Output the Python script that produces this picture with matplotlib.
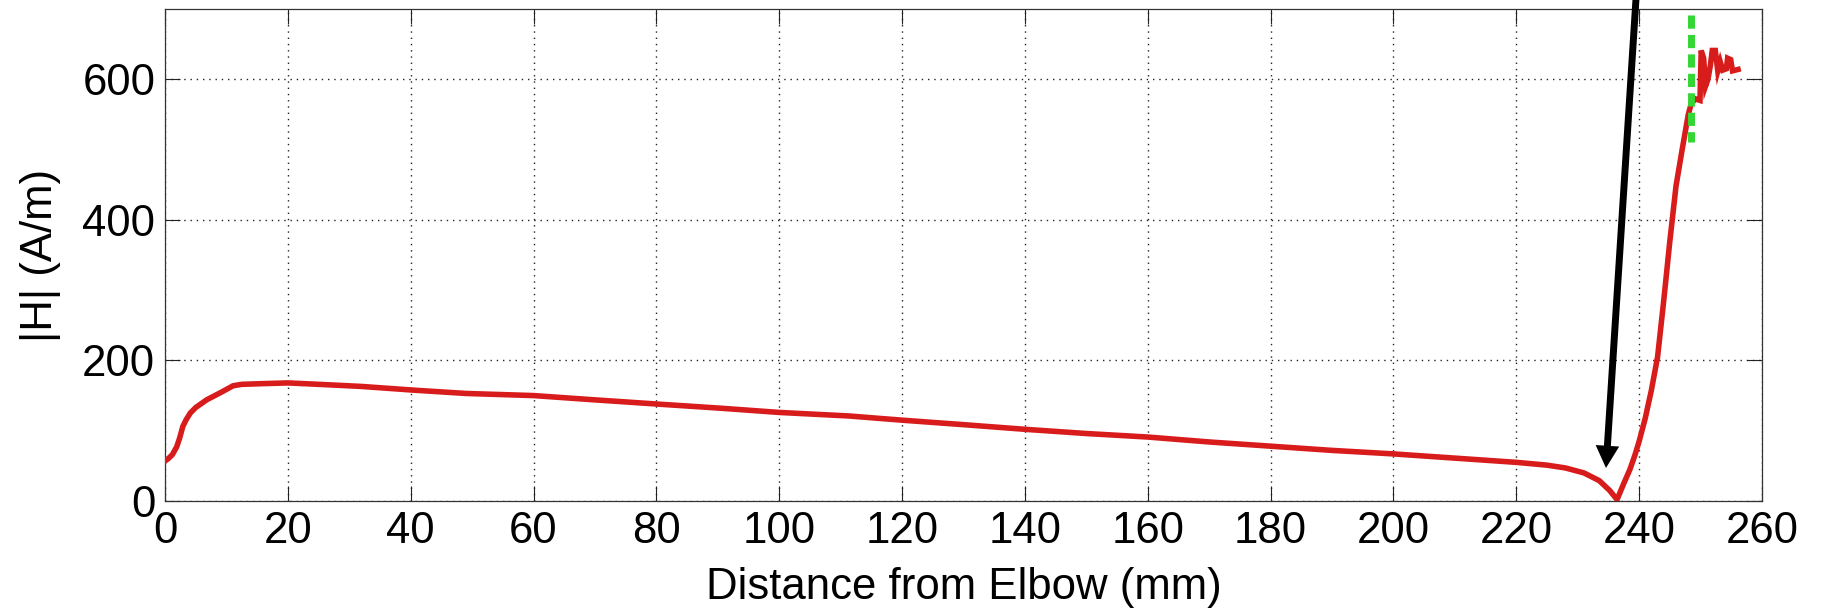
import matplotlib.pyplot as plt

plt.rcParams["font.family"] = ["Liberation Sans", "DejaVu Sans"]

# |H| along the pipe
distance_mm = [
    0, 0.5, 1.2, 1.9, 2.4, 2.9, 3.4, 4.1, 5.0, 6.8, 9.0, 11.1, 12.5, 16, 20,
    25, 32, 40, 49, 60, 69.8, 80, 90.5, 100, 111.3, 120, 129.4, 140, 150,
    160, 170, 180, 190, 200, 210, 220, 225, 228, 231, 233.5, 235.2, 236.4,
    237.5, 238.5, 239.3, 240, 241, 242, 243, 244, 245, 246, 247, 247.5, 248,
    248.5, 249.2, 249.9, 250.1, 250.5, 250.8, 251.2, 251.6, 251.9, 252.4,
    252.8, 253.2, 253.6, 254.2, 254.4, 254.9, 255.2, 256.1,
]
field_Am = [
    57, 60, 66, 77, 90, 106, 115, 125, 133, 144, 154, 164, 166, 167, 168,
    166, 163, 158, 153, 150, 144, 138, 132, 126, 121, 115, 109, 102, 96,
    91, 84, 78, 72, 67, 61, 55, 51, 47, 40, 29, 15, 2,
    25, 45, 65, 85, 118, 158, 205, 285, 370, 448, 500, 525, 550,
    566, 572, 570, 641, 630, 590, 600, 620, 641, 641,
    612, 625, 613, 615, 630, 628, 612, 614,
]

# green marker line and arrow
marker_x = 248.4
marker_y = [691, 511]
arrow_tip = (234.6, 47)
arrow_tail = (239.6, 730)

xticks = list(range(0, 261, 20))
yticks = [0, 200, 400, 600]

fig = plt.figure(figsize=(18.22, 6.10), dpi=100)
ax = fig.add_axes([165 / 1822, 1 - 501 / 610, 1597 / 1822, 492 / 610])

ax.plot(distance_mm, field_Am, color="#d81c1c", lw=4, solid_joinstyle="miter", zorder=3)
ax.plot([marker_x, marker_x], marker_y, color="#33d633", lw=5,
        dashes=(1.9, 0.9), zorder=4)

ax.annotate("", xy=arrow_tip, xytext=arrow_tail, annotation_clip=False,
            arrowprops=dict(width=5, headwidth=17, headlength=16, shrink=0,
                            facecolor="black", edgecolor="black", lw=0),
            zorder=5)

ax.set_xlim(0, 260)
ax.set_ylim(0, 700)
ax.set_xticks(xticks)
ax.set_yticks(yticks)
ax.grid(True, color="#222222", lw=1.0, linestyle=(0, (1, 3.5)))
ax.tick_params(direction="in", length=11, width=0.8, top=True, right=True,
               labelsize=31.5, pad=7, colors="#222222", labelcolor="black")
for s in ax.spines.values():
    s.set_linewidth(0.9)
    s.set_color("#333333")

ax.set_xlabel("Distance from Elbow (mm)", fontsize=31.5)
ax.set_ylabel("|H| (A/m)", fontsize=31.5)
ax.xaxis.set_label_coords(0.5, -0.134)
ax.yaxis.set_label_coords(-0.0651, 0.5)

fig.savefig("out.png", dpi=100, facecolor="white")
